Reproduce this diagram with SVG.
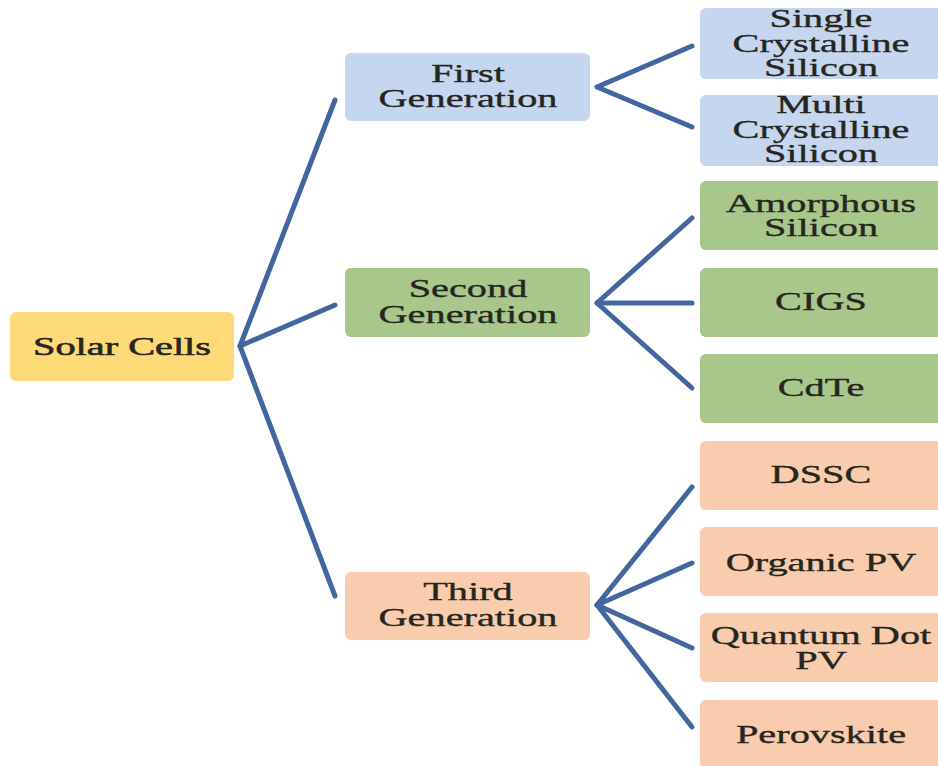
<svg xmlns="http://www.w3.org/2000/svg" width="938" height="766" viewBox="0 0 938 766">
<style>
.t{font-family:"Liberation Serif","Times New Roman",serif;font-size:26px;fill:#262621;stroke:#262621;stroke-width:0.35;text-anchor:middle}
.y{fill:#FDDA77}.b{fill:#C7D6EF}.g{fill:#A9C68B}.o{fill:#F9CCAD}
.c{stroke:#41679E;stroke-width:5;fill:none;stroke-linecap:round;stroke-linejoin:round}
</style>
<rect width="938" height="766" fill="#fff"/>
<g id="connectors" class="c">
<path d="M335,100 L240,346 L335,305"/>
<path d="M240,346 L335,596"/>
<path d="M692,46 L597,87 L692,127"/>
<path d="M692,218 L597,303 L692,303"/>
<path d="M597,303 L692,388"/>
<path d="M692,487 L597,605 L692,563"/>
<path d="M597,605 L692,648"/>
<path d="M597,605 L692,727"/>
</g>
<g id="solar"><rect class="y" x="10" y="312" width="224" height="69" rx="6"/><text class="t" transform="translate(122,0) scale(1.55,1)" y="355" style="stroke-width:0.6">Solar Cells</text></g>
<g id="first"><rect class="b" x="345" y="53" width="245" height="68" rx="6"/><text class="t" transform="translate(468,0) scale(1.55,1)"><tspan x="0" y="82">First</tspan><tspan x="0" y="107">Generation</tspan></text></g>
<g id="second"><rect class="g" x="345" y="268" width="245" height="69" rx="6"/><text class="t" transform="translate(468,0) scale(1.55,1)"><tspan x="0" y="297">Second</tspan><tspan x="0" y="323">Generation</tspan></text></g>
<g id="third"><rect class="o" x="345" y="572" width="245" height="68" rx="6"/><text class="t" transform="translate(468,0) scale(1.55,1)"><tspan x="0" y="600">Third</tspan><tspan x="0" y="626">Generation</tspan></text></g>
<g id="single"><rect class="b" x="700" y="8" width="245" height="71" rx="6"/><text class="t" transform="translate(821,0) scale(1.55,1)"><tspan x="0" y="27">Single</tspan><tspan x="0" y="52">Crystalline</tspan><tspan x="0" y="76">Silicon</tspan></text></g>
<g id="multi"><rect class="b" x="700" y="95" width="245" height="71" rx="6"/><text class="t" transform="translate(821,0) scale(1.55,1)"><tspan x="0" y="113">Multi</tspan><tspan x="0" y="138">Crystalline</tspan><tspan x="0" y="162">Silicon</tspan></text></g>
<g id="amorphous"><rect class="g" x="700" y="181" width="245" height="69" rx="6"/><text class="t" transform="translate(821,0) scale(1.55,1)"><tspan x="0" y="212">Amorphous</tspan><tspan x="0" y="236">Silicon</tspan></text></g>
<g id="cigs"><rect class="g" x="700" y="268" width="245" height="69" rx="6"/><text class="t" transform="translate(821,0) scale(1.55,1)" y="310">CIGS</text></g>
<g id="cdte"><rect class="g" x="700" y="354" width="245" height="69" rx="6"/><text class="t" transform="translate(821,0) scale(1.55,1)" y="396">CdTe</text></g>
<g id="dssc"><rect class="o" x="700" y="441" width="245" height="69" rx="6"/><text class="t" transform="translate(821,0) scale(1.55,1)" y="483">DSSC</text></g>
<g id="organic"><rect class="o" x="700" y="527" width="245" height="69" rx="6"/><text class="t" transform="translate(821,0) scale(1.55,1)" y="571">Organic PV</text></g>
<g id="quantum"><rect class="o" x="700" y="613" width="245" height="69" rx="6"/><text class="t" transform="translate(821,0) scale(1.55,1)"><tspan x="0" y="644">Quantum Dot</tspan><tspan x="0" y="669">PV</tspan></text></g>
<g id="perovskite"><rect class="o" x="700" y="700" width="245" height="69" rx="6"/><text class="t" transform="translate(821,0) scale(1.55,1)" y="743">Perovskite</text></g>
</svg>
